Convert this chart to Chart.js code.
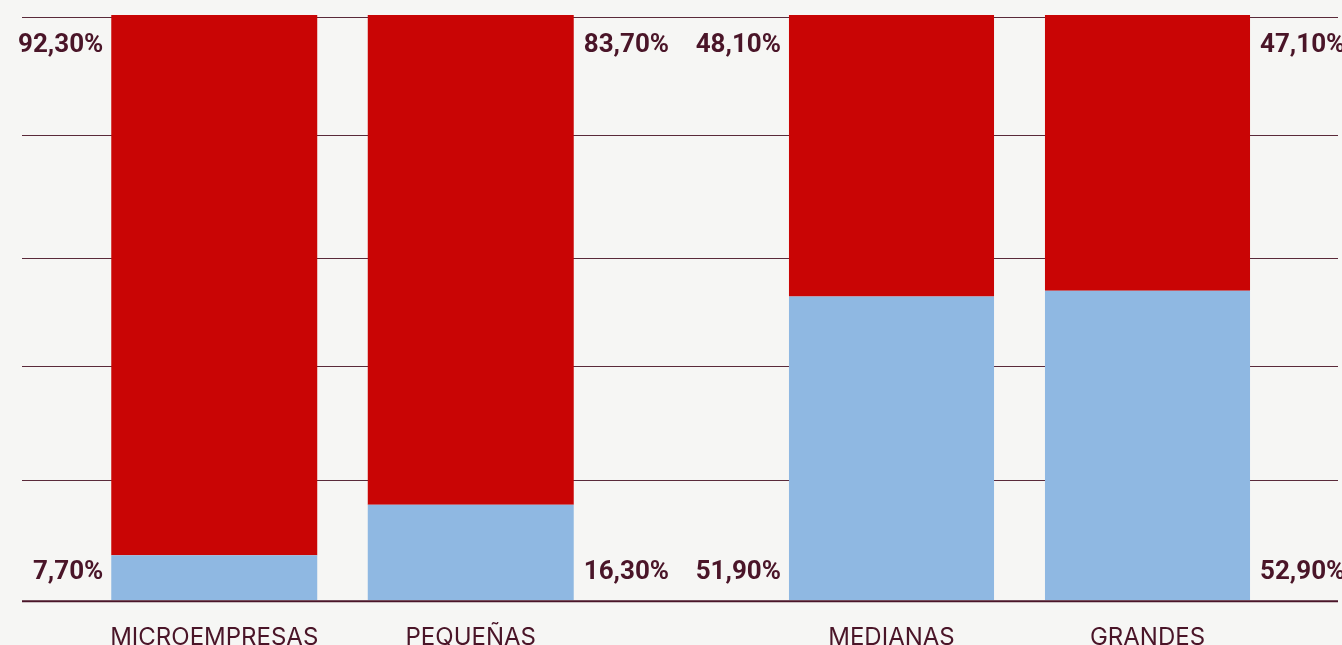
<!DOCTYPE html>
<html>
<head>
<meta charset="utf-8">
<script src="https://cdn.jsdelivr.net/npm/chart.js@4/dist/chart.umd.min.js"></script>
<style>
  html, body { margin: 0; padding: 0; background: #f6f6f4; }
  #wrap { position: relative; width: 1342px; height: 645px; overflow: hidden; }
  #left { position: absolute; left: 0; top: 0; }
  #right { position: absolute; left: 680px; top: 0; }
</style>
</head>
<body>
<div id="wrap">
  <canvas id="left" width="680" height="667"></canvas>
  <canvas id="right" width="662" height="667"></canvas>
</div>
<script>
'use strict';

// data
var leftCategories = ['MICROEMPRESAS', 'PEQUEÑAS'];
var rightCategories = ['MEDIANAS', 'GRANDES'];
var leftBlue = [7.7, 16.3];
var leftRed = [92.3, 83.7];
var rightBlue = [51.9, 52.9];
var rightRed = [48.1, 47.1];
var gridValues = [20.6, 40.1, 58.5, 79.5, 99.7];

var RED = '#c90505';
var BLUE = '#8fb8e2';
var INK = '#4a1528';

function pct (v) {
  return v.toFixed(2).replace('.', ',') + '%';
}

// horizontal rules across the whole width, behind the bars
function gridPlugin (x0, x1) {
  return {
    id: 'rules',
    beforeDatasetsDraw: function (chart) {
      var ctx = chart.ctx;
      var y = chart.scales.y;
      ctx.save();
      ctx.strokeStyle = '#5a2a3a';
      ctx.lineWidth = 1;
      for (var i = 0; i < gridValues.length; i++) {
        var py = Math.round(y.getPixelForValue(gridValues[i])) + 0.5;
        ctx.beginPath();
        ctx.moveTo(x0, py);
        ctx.lineTo(x1, py);
        ctx.stroke();
      }
      ctx.restore();
    },
    afterDatasetsDraw: function (chart) {
      var ctx = chart.ctx;
      var py = chart.scales.y.getPixelForValue(0) + 1;
      ctx.save();
      ctx.strokeStyle = INK;
      ctx.lineWidth = 2;
      ctx.beginPath();
      ctx.moveTo(x0, py);
      ctx.lineTo(x1, py);
      ctx.stroke();
      ctx.restore();
    }
  };
}

// value labels: first bar labelled on its left, second on its right
var labelPlugin = {
  id: 'values',
  afterDatasetsDraw: function (chart) {
    var ctx = chart.ctx;
    var area = chart.chartArea;
    ctx.save();
    ctx.fillStyle = INK;
    ctx.font = 'bold 26px Roboto';
    ctx.textBaseline = 'middle';
    chart.data.datasets.forEach(function (ds, di) {
      var meta = chart.getDatasetMeta(di);
      meta.data.forEach(function (bar, i) {
        var half = bar.width / 2;
        var x, align;
        if (i === 0) {
          x = bar.x - half - 8;
          align = 'right';
        } else {
          x = bar.x + half + 10;
          align = 'left';
        }
        var y = di === 0 ? area.bottom - 28 : area.top + 30;
        ctx.textAlign = align;
        ctx.fillText(pct(ds.data[i]), x, y);
      });
    });
    ctx.restore();
  }
};

function makeChart (id, labels, blue, red, pad, pctBar, rules) {
  var ctx = document.getElementById(id).getContext('2d');
  return new Chart(ctx, {
    type: 'bar',
    data: {
      labels: labels,
      datasets: [{
        data: blue,
        backgroundColor: BLUE
      }, {
        data: red,
        backgroundColor: RED
      }]
    },
    options: {
      responsive: false,
      animation: false,
      devicePixelRatio: 1,
      layout: { padding: pad },
      categoryPercentage: 1,
      barPercentage: pctBar,
      plugins: {
        legend: { display: false },
        tooltip: { enabled: false }
      },
      scales: {
        x: {
          stacked: true,
          grid: { display: false },
          border: { display: false },
          ticks: {
            color: INK,
            padding: 15,
            maxRotation: 0,
            autoSkip: false,
            font: { family: 'Inter', size: 24, weight: 400 }
          }
        },
        y: {
          stacked: true,
          display: false,
          min: 0,
          max: 100
        }
      }
    },
    plugins: [rules, labelPlugin]
  });
}

makeChart('left', leftCategories, leftBlue, leftRed,
  { left: 86, right: 81, top: 15, bottom: 0 }, 0.803, gridPlugin(22, 680));
makeChart('right', rightCategories, rightBlue, rightRed,
  { left: 83.5, right: 66.5, top: 15, bottom: 0 }, 0.801, gridPlugin(0, 658));
</script>
</body>
</html>
